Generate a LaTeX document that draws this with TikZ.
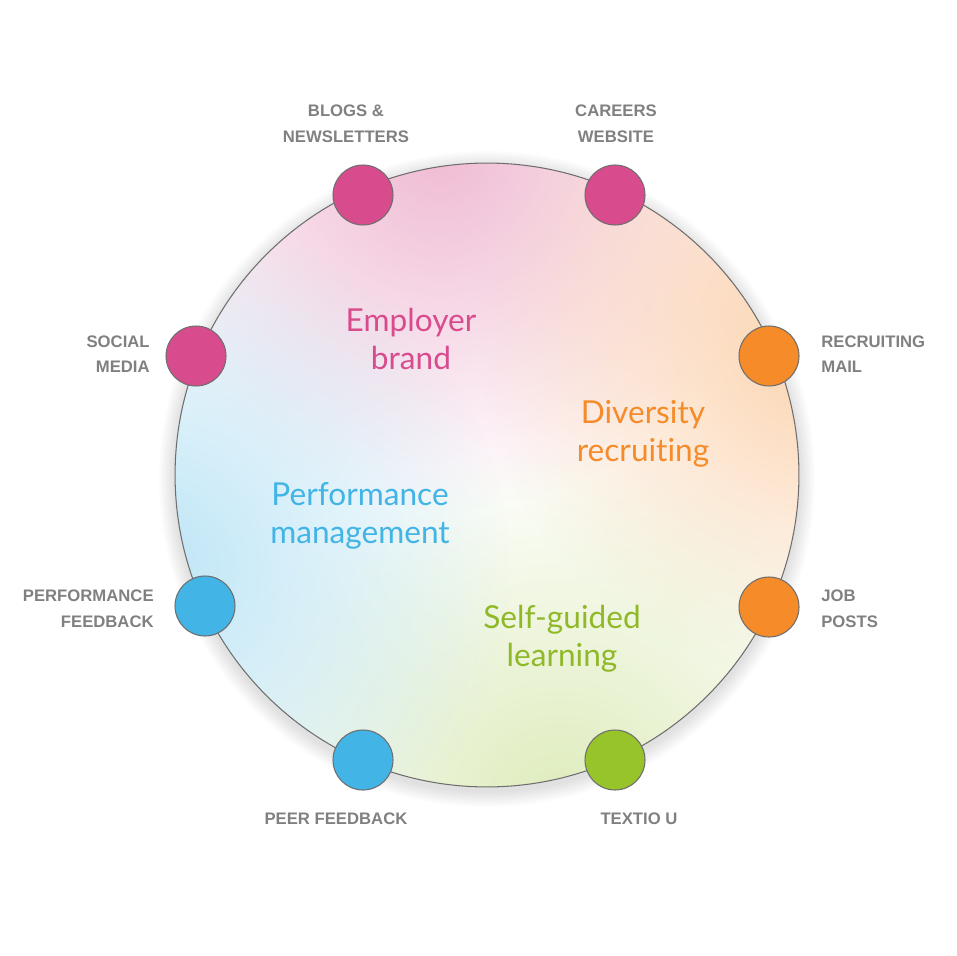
\documentclass[tikz,border=0pt]{standalone}
\usepackage{fontspec}
\setmainfont{Liberation Sans}
\newfontfamily\areafont{Lato}[Ligatures=NoCommon]
\usetikzlibrary{positioning, fadings}

\definecolor{brandpink}{HTML}{D84C8E}
\definecolor{brandorange}{HTML}{F68B2A}
\definecolor{brandblue}{HTML}{42B4E6}
\definecolor{brandgreen}{HTML}{97C32B}
\definecolor{tagtext}{HTML}{808080}
\definecolor{rimgray}{HTML}{6E6E6E}

\tikzfading[name=blobfade, inner color=transparent!0, outer color=transparent!100]

% #1=name, #2=x, #3=y, #4=fill colour
\newcommand{\channeldot}[4]{%
  \node[dot, fill=#4] (#1) at (#2,#3) {};
}

\begin{document}
\begin{tikzpicture}[
  x=0.02cm, y=-0.02cm,
  dot/.style={circle, draw=rimgray, line width=0.6pt, minimum size=1.2cm, inner sep=0pt},
  tag/.style={font=\bfseries\fontsize{9.5}{14.6}\selectfont, text=tagtext, inner sep=0pt},
  area/.style={font=\areafont\fontsize{18}{21.5}\selectfont, align=center},
]
\useasboundingbox (0,0) rectangle (956,956);

% soft shadow round the wheel
\foreach \i in {1,...,10}
  \fill[black, opacity=0.011] (487,479) circle ({312+\i*1.6});

% wheel with colour glows
\begin{scope}
  \clip (487,475) circle (312);
  \fill[white] (487,475) circle (312);
  \fill[brandpink!38, path fading=blobfade] (440,150) circle (360);
  \fill[brandorange!38, path fading=blobfade] (820,340) circle (340);
  \fill[brandgreen!32, path fading=blobfade] (560,810) circle (360);
  \fill[brandblue!35, path fading=blobfade] (150,570) circle (360);
\end{scope}
\node[circle, draw=rimgray, line width=0.6pt, minimum size=12.48cm, inner sep=0pt] (wheel) at (487,475) {};

% channel dots
\channeldot{blogs}{363}{195}{brandpink}
\channeldot{careers}{615}{195}{brandpink}
\channeldot{social}{196}{356}{brandpink}
\channeldot{mail}{769}{356}{brandorange}
\channeldot{perffeed}{205}{606}{brandblue}
\channeldot{jobs}{769}{607}{brandorange}
\channeldot{peer}{363}{760}{brandblue}
\channeldot{textio}{615}{760}{brandgreen}

% channel labels
\node[tag, align=center] (blogslbl) at (346,124) {BLOGS \&\\NEWSLETTERS};
\node[tag, align=center] (careerslbl) at (616,124) {CAREERS\\WEBSITE};
\node[tag, align=right, anchor=east] (sociallbl) at (150,354) {SOCIAL\\MEDIA};
\node[tag, align=left, anchor=west] (maillbl) at (821,354) {RECRUITING\\MAIL};
\node[tag, align=right, anchor=east] (perffeedlbl) at (154,609) {PERFORMANCE\\FEEDBACK};
\node[tag, align=left, anchor=west] (jobslbl) at (821,609) {JOB\\POSTS};
\node[tag] (peerlbl) at (336,819) {PEER FEEDBACK};
\node[tag] (textiolbl) at (639,819) {TEXTIO U};

% area labels
\node[area, text=brandpink] (employer) at (411,339) {Employer\\brand};
\node[area, text=brandorange] (diversity) at (643,434) {Diversity\\recruiting};
\node[area, text=brandblue] (performance) at (360,516) {Performance\\management};
\node[area, text=brandgreen!95!black] (selfguided) at (562,639) {Self-guided\\learning};

\end{tikzpicture}
\end{document}
